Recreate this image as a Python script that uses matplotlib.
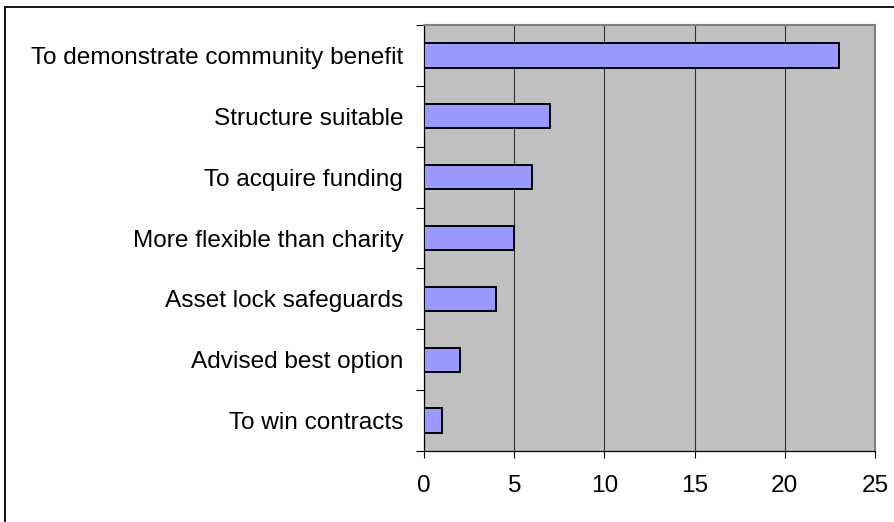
import matplotlib.pyplot as plt
import matplotlib.patches as mpatches
import numpy as np

reasons = [
    "To win contracts",
    "Advised best option",
    "Asset lock safeguards",
    "More flexible than charity",
    "To acquire funding",
    "Structure suitable",
    "To demonstrate community benefit",
]
counts = [1, 2, 4, 5, 6, 7, 23]
x_ticks = [0, 5, 10, 15, 20, 25]

plt.rcParams['font.family'] = ['Liberation Sans', 'DejaVu Sans']

fig = plt.figure(figsize=(8.95, 5.22), dpi=100)
ax = fig.add_axes([424 / 895, 1 - 451 / 522, 451 / 895, 426 / 522])

# chart border (only left and top edges show)
fig.patches.append(mpatches.Rectangle((5.5 / 895, -0.2), 1.2, 1.2 - 6.5 / 522,
                                      transform=fig.transFigure, fill=False,
                                      edgecolor='black', linewidth=1.3))

ax.set_facecolor('#C0C0C0')
pos = np.arange(len(reasons))
ax.barh(pos, counts, height=0.4, color='#9999FF', edgecolor='black',
        linewidth=1.4, zorder=3)

ax.set_xlim(0, 25)
ax.set_ylim(-0.5, len(reasons) - 0.5)
ax.set_xticks(x_ticks)
ax.xaxis.grid(True, color='#303030', linewidth=0.8, zorder=1)
ax.set_axisbelow(True)

# tick marks between categories, labels centred on bars
ax.set_yticks(np.arange(-0.5, len(reasons)), labels=[])
ax.set_yticks(pos, labels=reasons, minor=True)
ax.tick_params(axis='y', which='major', direction='out', length=6, width=0.8)
ax.tick_params(axis='y', which='minor', length=0, pad=15, labelsize=17.6)
ax.tick_params(axis='x', direction='out', length=5, width=0.8, pad=12, labelsize=17.6)

for side in ('left', 'bottom'):
    ax.spines[side].set_color('black')
    ax.spines[side].set_linewidth(0.9)
for side in ('top', 'right'):
    ax.spines[side].set_color('#808080')
    ax.spines[side].set_linewidth(1.5)

fig.savefig('out.png', dpi=100)
